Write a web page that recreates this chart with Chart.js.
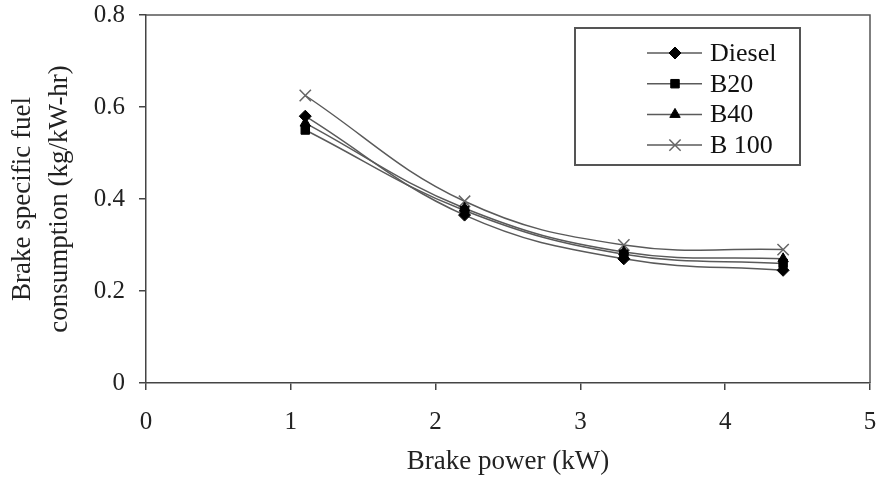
<!DOCTYPE html>
<html>
<head>
<meta charset="utf-8">
<script src="https://cdn.jsdelivr.net/npm/chart.js@4.4.1/dist/chart.umd.min.js"></script>
<style>
  html, body { margin: 0; padding: 0; background: #fff; }
  #wrap { width: 886px; height: 477px; }
</style>
</head>
<body>
<div id="wrap"><canvas id="bsfc" width="886" height="477"></canvas></div>
<script>
// Données
const brakePower = [1.1, 2.2, 3.3, 4.4];
const diesel = [0.58, 0.365, 0.27, 0.245];
const b20 = [0.55, 0.375, 0.28, 0.26];
const b40 = [0.565, 0.38, 0.285, 0.27];
const b100 = [0.625, 0.395, 0.30, 0.29];
const seriesNames = ['Diesel', 'B20', 'B40', 'B 100'];
const xTicks = [0, 1, 2, 3, 4, 5];
const yTicks = [0, 0.2, 0.4, 0.6, 0.8];

const serif = '"Liberation Serif", "Times New Roman", serif';
const lineColor = '#5a5a5a';

function toPoints(values) {
    return brakePower.map((x, i) => ({ x: x, y: values[i] }));
}

function makeSeries(label, values, style, color) {
    return {
        label: label,
        data: toPoints(values),
        borderColor: lineColor,
        borderWidth: 1.5,
        tension: 0.4,
        pointStyle: style,
        pointRadius: style === 'crossRot' ? 8 : 6,
        pointBackgroundColor: color,
        pointBorderColor: color,
        pointBorderWidth: style === 'crossRot' ? 1.5 : 1,
        fill: false
    };
}

// Cadre autour de la zone de tracé + légende encadrée
const framePlugin = {
    id: 'frameLegend',
    afterDraw(chart) {
        const ctx = chart.ctx;
        const a = chart.chartArea;
        ctx.save();
        ctx.strokeStyle = '#555';
        ctx.lineWidth = 1.5;
        ctx.beginPath();
        ctx.moveTo(a.left, a.top);
        ctx.lineTo(a.right, a.top);
        ctx.lineTo(a.right, a.bottom);
        ctx.stroke();

        // boîte de légende
        ctx.strokeStyle = '#555';
        ctx.lineWidth = 2;
        ctx.strokeRect(575, 28, 225, 137);

        ctx.font = '26px ' + serif;
        ctx.textBaseline = 'middle';
        chart.data.datasets.forEach((ds, i) => {
            const y = 53 + i * 30.7;
            ctx.strokeStyle = lineColor;
            ctx.lineWidth = 1.5;
            ctx.beginPath();
            ctx.moveTo(647, y);
            ctx.lineTo(702, y);
            ctx.stroke();
            ctx.fillStyle = ds.pointBackgroundColor;
            ctx.strokeStyle = ds.pointBorderColor;
            ctx.lineWidth = ds.pointBorderWidth;
            Chart.helpers.drawPoint(ctx, {
                pointStyle: ds.pointStyle,
                radius: ds.pointRadius,
                rotation: 0,
                borderWidth: ds.pointBorderWidth
            }, 675, y);
            ctx.fillStyle = '#111';
            ctx.fillText(ds.label, 710, y + 1);
        });
        ctx.restore();
    }
};

const ctx = document.getElementById('bsfc').getContext('2d');
const chart = new Chart(ctx, {
    type: 'line',
    data: {
        datasets: [
            makeSeries(seriesNames[0], diesel, 'rectRot', '#000'),
            makeSeries(seriesNames[1], b20, 'rect', '#000'),
            makeSeries(seriesNames[2], b40, 'triangle', '#000'),
            makeSeries(seriesNames[3], b100, 'crossRot', '#666')
        ]
    },
    options: {
        responsive: false,
        animation: false,
        layout: { padding: { top: 15, right: 16, left: 0, bottom: 0 } },
        plugins: {
            legend: { display: false },
            tooltip: { enabled: false }
        },
        scales: {
            x: {
                type: 'linear',
                min: 0,
                max: 5,
                afterBuildTicks: (s) => { s.ticks = xTicks.map(v => ({ value: v })); },
                afterFit: (s) => {
                    s.height = 94;
                    s.paddingLeft = 0;
                    s.paddingRight = 0;
                },
                ticks: {
                    color: '#222',
                    font: { family: serif, size: 25 },
                    padding: 17
                },
                grid: {
                    drawOnChartArea: false,
                    drawTicks: true,
                    tickLength: 7,
                    color: '#444',
                    lineWidth: 1.5
                },
                border: { display: true, color: '#444', width: 1.5 },
                title: {
                    display: true,
                    text: 'Brake power (kW)',
                    color: '#222',
                    font: { family: serif, size: 27, lineHeight: 1.1 },
                    padding: { top: 0, bottom: 0 }
                }
            },
            y: {
                min: 0,
                max: 0.8,
                afterBuildTicks: (s) => { s.ticks = yTicks.map(v => ({ value: v })); },
                afterFit: (s) => {
                    s.width = 146;
                    s.paddingTop = 0;
                    s.paddingBottom = 0;
                },
                ticks: {
                    color: '#222',
                    font: { family: serif, size: 25 },
                    padding: 14,
                    callback: (v) => String(Math.round(v * 10) / 10)
                },
                grid: {
                    drawOnChartArea: false,
                    drawTicks: true,
                    tickLength: 7,
                    color: '#444',
                    lineWidth: 1.5
                },
                border: { display: true, color: '#444', width: 1.5 },
                title: {
                    display: true,
                    text: ['Brake specific fuel', 'consumption (kg/kW-hr)'],
                    color: '#222',
                    font: { family: serif, size: 27, lineHeight: 1.37 },
                    padding: { top: 4, bottom: 0 }
                }
            }
        }
    },
    plugins: [framePlugin]
});
</script>
</body>
</html>
